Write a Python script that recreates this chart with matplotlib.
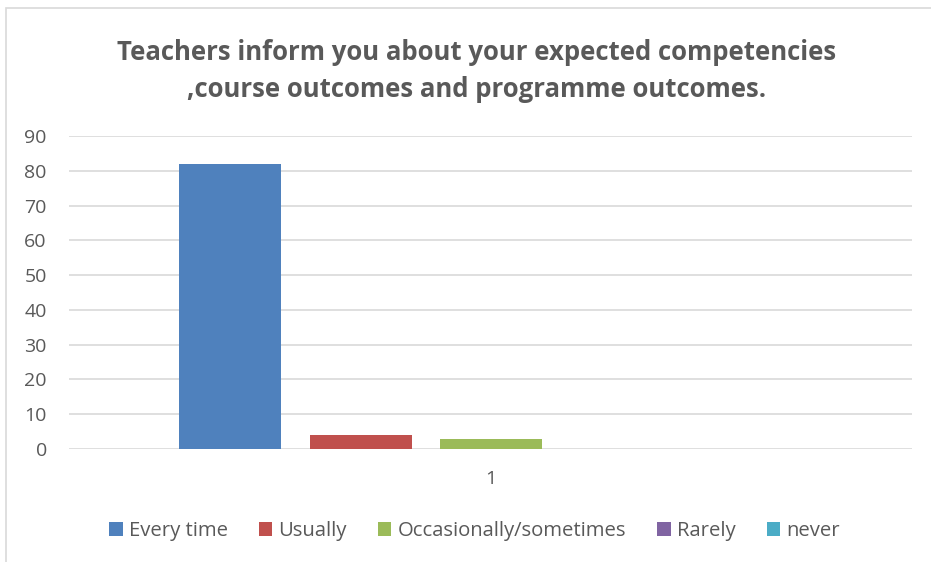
import matplotlib
matplotlib.use('Agg')
import matplotlib.pyplot as plt
from matplotlib.patches import Rectangle

plt.rcParams['font.family'] = ['Open Sans', 'DejaVu Sans']

categories = ['1']
series = ['Every time', 'Usually', 'Occasionally/sometimes', 'Rarely', 'never']
values = [82, 4, 3, 0, 0]
colors = ['#4f81bd', '#c0504d', '#9bbb59', '#8064a2', '#4bacc6']
title = 'Teachers inform you about your expected competencies\n,course outcomes and programme outcomes.'

W, H = 931, 562
fig = plt.figure(figsize=(W / 100, H / 100), dpi=100)

# axes placed in pixel coords: plot area x 69..912, y 136..449
ax = fig.add_axes([69 / W, 1 - 449 / H, (912 - 69) / W, (449 - 136) / H])

step = 130 / 843
width = 102 / 843
for i, (name, v, c) in enumerate(zip(series, values, colors)):
    ax.bar(1 + (i - 2) * step, v, width=width, color=c, label=name, zorder=3)

ax.set_xlim(0.5, 1.5)
ax.set_ylim(0, 90)
ax.set_yticks(range(0, 91, 10))
ax.set_xticks([1])
ax.set_xticklabels(categories)
ax.grid(axis='y', color='#d9d9d9', linewidth=1.2, zorder=0)
for s in ax.spines.values():
    s.set_visible(False)
ax.tick_params(length=0, labelsize=14, colors='#595959', pad=16)
ax.tick_params(axis='x', pad=15)

fig.text(0.5 + 11 / W, 1 - 71 / H, title, ha='center', va='center', fontsize=18.5,
         fontweight='bold', color='#595959', linespacing=1.5)

fig.legend(loc='center', bbox_to_anchor=(0.5 + 9 / W, 1 - 531 / H), ncol=5, frameon=False,
           fontsize=14.6, handlelength=0.65, handleheight=0.65, handletextpad=0.3,
           columnspacing=1.55, labelcolor='#595959')

# chart border (left and top visible)
fig.add_artist(Rectangle((6 / W, -0.1), 1.2, 1 - 8 / H + 0.1, transform=fig.transFigure,
                         fill=False, edgecolor='#d9d9d9', linewidth=1.2))

fig.savefig('out.png', dpi=100, facecolor='white')
